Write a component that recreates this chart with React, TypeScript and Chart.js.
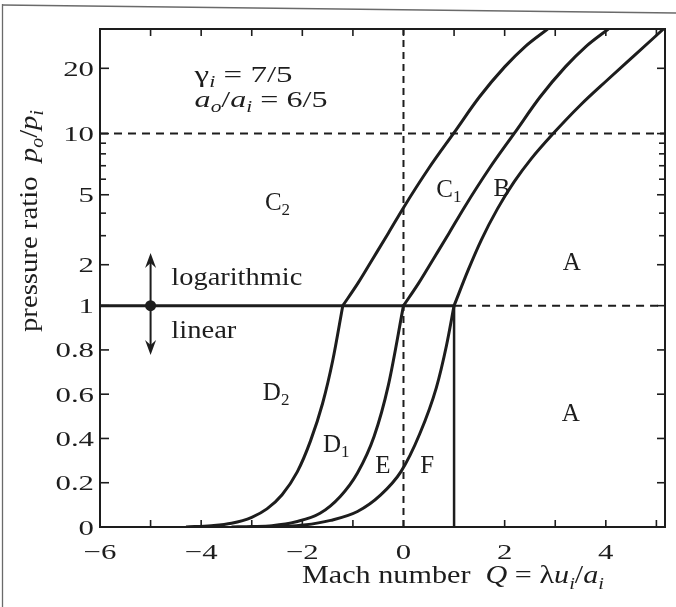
import React, { useEffect, useRef } from 'react';
import { Chart, registerables, LinearScale } from 'chart.js';

// ---------- axis ranges & ticks ----------
const X_MIN = -6;
const X_MAX = 5.17;
const Y_MAX = 30;
const LOG_GAIN = 1.05; // height of the logarithmic part relative to the linear part

const X_LABEL_TICKS = [-6, -4, -2, 0, 2, 4];
const X_ALL_TICKS = [-5, -4, -3, -2, -1, 0, 1, 2, 3, 4, 5];
const Y_LABEL_TICKS = [0, 0.2, 0.4, 0.6, 0.8, 1, 2, 5, 10, 20];
const Y_MINOR_TICKS = [3, 4, 6, 7, 8, 9];

// ---------- curves (Q, p_o/p_i) ----------
const LEFT_LOW_Q = [-4.3, -3.8, -3.4, -3.0, -2.7, -2.4, -2.1, -1.84, -1.6, -1.4, -1.2];
const LEFT_LOW_P = [0, 0.006, 0.017, 0.044, 0.082, 0.146, 0.249, 0.388, 0.558, 0.751, 1];
const LEFT_UP_Q = [-1.2, -0.9, -0.6, -0.3, 0, 0.5, 1.0, 1.5, 2.0, 2.4, 2.85];
const LEFT_UP_P = [1, 1.5, 2.2, 3.1, 4.28, 6.8, 10.1, 14.8, 20.3, 25, 30];

const MID_LOW_Q = [-3.4, -3.0, -2.6, -2.12, -1.65, -1.25, -0.91, -0.58, -0.3, 0];
const MID_LOW_P = [0, 0.002, 0.006, 0.024, 0.062, 0.138, 0.244, 0.41, 0.64, 1];
const MID_UP_Q = [0, 0.3, 0.6, 0.9, 1.2, 1.7, 2.2, 2.7, 3.2, 3.6, 4.05];
const MID_UP_P = [1, 1.5, 2.2, 3.1, 4.28, 6.8, 10.1, 14.8, 20.3, 25, 30];

const RIGHT_LOW_Q = [-2.9, -2.4, -1.97, -1.44, -0.91, -0.45, -0.05, 0.32, 0.65, 0.85, 1.0];
const RIGHT_LOW_P = [0, 0.003, 0.009, 0.03, 0.07, 0.145, 0.25, 0.42, 0.63, 0.82, 1];
const RIGHT_UP_Q = [1.0, 1.28, 1.54, 1.86, 2.19, 2.52, 2.96, 3.5, 4.03, 4.55, 5.14];
const RIGHT_UP_P = [1, 1.85, 2.84, 4.23, 5.83, 7.54, 10, 13.6, 17.7, 22.7, 30];

// ---------- reference lines ----------
const LINE_P1_SOLID_Q = [X_MIN, 1];
const LINE_P1_SOLID_P = [1, 1];
const LINE_Q1_SOLID_Q = [1, 1];
const LINE_Q1_SOLID_P = [0, 1];
const LINE_P1_DASH_Q = [1, X_MAX];
const LINE_P1_DASH_P = [1, 1];
const LINE_P10_DASH_Q = [X_MIN, X_MAX];
const LINE_P10_DASH_P = [10, 10];
const LINE_Q0_DASH_Q = [0, 0];
const LINE_Q0_DASH_P = [0, Y_MAX];

// ---------- annotations (data units) ----------
const ARROW_Q = -5;
const ARROW_UP_P = 2.37;
const ARROW_DOWN_P = 0.777;

const INK = '#1d1d1d';
const FONT = "'Liberation Serif', 'Times New Roman', serif";

function toT(p: number) {
  return p <= 1 ? p : 1 + LOG_GAIN * (Math.log10(p + 1) - Math.log10(2));
}

class HybridScale extends LinearScale {
  static id = 'hybrid';
  getPixelForValue(value: number) {
    return this.getPixelForDecimal(toT(value) / toT(Y_MAX));
  }
  getValueForPixel(pixel: number) {
    const t = this.getDecimalForPixel(pixel) * toT(Y_MAX);
    if (t <= 1) return t;
    return Math.pow(10, (t - 1) / LOG_GAIN + Math.log10(2)) - 1;
  }
}

Chart.register(...registerables, HybridScale);

type Seg = { t: string; italic?: boolean; sub?: boolean };

function drawRich(
  ctx: CanvasRenderingContext2D,
  segs: Seg[],
  x: number,
  y: number,
  size: number,
  opts: { align?: 'left' | 'center' | 'right'; width?: number; scaleX?: number; rotate?: boolean } = {}
) {
  const fontFor = (s: Seg) => `${s.italic ? 'italic ' : ''}${s.sub ? Math.round(size * 0.68) : size}px ${FONT}`;
  let total = 0;
  const widths = segs.map((s) => {
    ctx.font = fontFor(s);
    const w = ctx.measureText(s.t).width;
    total += w;
    return w;
  });
  const sx = opts.width ? opts.width / total : opts.scaleX || 1;
  ctx.save();
  ctx.translate(x, y);
  if (opts.rotate) ctx.rotate(-Math.PI / 2);
  ctx.scale(sx, 1);
  let cx = 0;
  if (opts.align === 'center') cx = -total / 2;
  else if (opts.align === 'right') cx = -total;
  ctx.textBaseline = 'alphabetic';
  ctx.textAlign = 'left';
  ctx.fillStyle = INK;
  segs.forEach((s, i) => {
    ctx.font = fontFor(s);
    ctx.fillText(s.t, cx, s.sub ? size * 0.22 : 0);
    cx += widths[i];
  });
  ctx.restore();
}

const REGION_LABELS: { segs: Seg[]; q: number; p: number }[] = [
  { segs: [{ t: 'C' }, { t: '2', sub: true }], q: -2.74, p: 4.16 },
  { segs: [{ t: 'C' }, { t: '1', sub: true }], q: 0.65, p: 4.87 },
  { segs: [{ t: 'B' }], q: 1.78, p: 4.93 },
  { segs: [{ t: 'A' }], q: 3.15, p: 1.85 },
  { segs: [{ t: 'A' }], q: 3.13, p: 0.479 },
  { segs: [{ t: 'D' }, { t: '2', sub: true }], q: -2.78, p: 0.574 },
  { segs: [{ t: 'D' }, { t: '1', sub: true }], q: -1.59, p: 0.339 },
  { segs: [{ t: 'E' }], q: -0.56, p: 0.244 },
  { segs: [{ t: 'F' }], q: 0.33, p: 0.244 },
];

const decor = {
  id: 'decor',
  afterDatasetsDraw(chart: any) {
    const { ctx, chartArea: a, scales } = chart;
    const xs = scales.x;
    const ys = scales.y;
    const line = (x1: number, y1: number, x2: number, y2: number) => {
      ctx.beginPath();
      ctx.moveTo(x1, y1);
      ctx.lineTo(x2, y2);
      ctx.stroke();
    };
    ctx.save();

    // scanned page edges
    ctx.strokeStyle = '#6a6a6a';
    ctx.lineWidth = 1.3;
    line(2.5, 4, 2.5, 607);
    line(2, 5, 676, 13);

    // frame
    ctx.strokeStyle = INK;
    ctx.lineWidth = 2;
    ctx.strokeRect(a.left, a.top, a.right - a.left, a.bottom - a.top);

    // inward ticks
    ctx.lineWidth = 1.6;
    X_ALL_TICKS.forEach((q) => {
      const x = xs.getPixelForValue(q);
      line(x, a.bottom, x, a.bottom - 7);
      line(x, a.top, x, a.top + 7);
    });
    Y_LABEL_TICKS.forEach((p) => {
      const y = ys.getPixelForValue(p);
      line(a.left, y, a.left + 9, y);
      line(a.right, y, a.right - 8, y);
    });
    Y_MINOR_TICKS.forEach((p) => {
      const y = ys.getPixelForValue(p);
      line(a.left, y, a.left + 6, y);
      line(a.right, y, a.right - 6, y);
    });

    // tick labels
    X_LABEL_TICKS.forEach((q) => {
      const txt = q < 0 ? '\u2212' + Math.abs(q) : String(q);
      drawRich(ctx, [{ t: txt }], xs.getPixelForValue(q), a.bottom + 32, 22, { align: 'center', scaleX: 1.4 });
    });
    Y_LABEL_TICKS.forEach((p) => {
      drawRich(ctx, [{ t: String(p) }], a.left - 6, ys.getPixelForValue(p) + 7.5, 22, { align: 'right', scaleX: 1.4 });
    });

    // axis titles
    drawRich(
      ctx,
      [
        { t: 'Mach number  ' },
        { t: 'Q', italic: true },
        { t: ' = \u03bb' },
        { t: 'u', italic: true },
        { t: 'i', italic: true, sub: true },
        { t: '/' },
        { t: 'a', italic: true },
        { t: 'i', italic: true, sub: true },
      ],
      302,
      a.bottom + 56,
      25,
      { align: 'left', width: 302 }
    );
    drawRich(
      ctx,
      [
        { t: 'pressure ratio  ' },
        { t: 'p', italic: true },
        { t: 'o', italic: true, sub: true },
        { t: '/' },
        { t: 'p', italic: true },
        { t: 'i', italic: true, sub: true },
      ],
      37,
      221,
      26,
      { align: 'center', width: 222, rotate: true }
    );

    // parameter text
    drawRich(
      ctx,
      [{ t: '\u03b3' }, { t: 'i', italic: true, sub: true }, { t: ' = 7/5' }],
      xs.getPixelForValue(-4.13),
      ys.getPixelForValue(17.4),
      24,
      { width: 98 }
    );
    drawRich(
      ctx,
      [
        { t: 'a', italic: true },
        { t: 'o', italic: true, sub: true },
        { t: '/' },
        { t: 'a', italic: true },
        { t: 'i', italic: true, sub: true },
        { t: ' = 6/5' },
      ],
      xs.getPixelForValue(-4.13),
      ys.getPixelForValue(13.3),
      24,
      { width: 133 }
    );

    // region labels
    REGION_LABELS.forEach((l) => {
      drawRich(ctx, l.segs, xs.getPixelForValue(l.q), ys.getPixelForValue(l.p), 25);
    });

    // logarithmic / linear with arrows
    drawRich(ctx, [{ t: 'logarithmic' }], xs.getPixelForValue(-4.59), ys.getPixelForValue(1.455), 26, { width: 131 });
    drawRich(ctx, [{ t: 'linear' }], xs.getPixelForValue(-4.59), ys.getPixelForValue(0.854), 26, { width: 65 });

    const ax = xs.getPixelForValue(ARROW_Q);
    const y1 = ys.getPixelForValue(1);
    const yUp = ys.getPixelForValue(ARROW_UP_P);
    const yDn = ys.getPixelForValue(ARROW_DOWN_P);
    ctx.strokeStyle = INK;
    ctx.fillStyle = INK;
    ctx.lineWidth = 2;
    line(ax, yUp + 4, ax, yDn - 4);
    const head = (tipY: number, dir: number) => {
      ctx.beginPath();
      ctx.moveTo(ax, tipY);
      ctx.lineTo(ax - 5.5, tipY - dir * 15);
      ctx.lineTo(ax, tipY - dir * 10);
      ctx.lineTo(ax + 5.5, tipY - dir * 15);
      ctx.closePath();
      ctx.fill();
    };
    head(yUp, -1);
    head(yDn, 1);
    ctx.beginPath();
    ctx.arc(ax, y1, 5.5, 0, Math.PI * 2);
    ctx.fill();

    ctx.restore();
  },
};

function series(qs: number[], ps: number[], extra: any = {}) {
  return {
    data: qs.map((q, i) => ({ x: q, y: ps[i] })),
    showLine: true,
    pointRadius: 0,
    borderColor: INK,
    borderWidth: 3,
    cubicInterpolationMode: 'monotone',
    ...extra,
  };
}

export default function App() {
  const ref = useRef<HTMLCanvasElement | null>(null);
  useEffect(() => {
    if (!ref.current) return;
    const dash1 = { borderWidth: 2, borderDash: [8, 6], cubicInterpolationMode: 'default' };
    const dash2 = { borderWidth: 2, borderDash: [7, 5], cubicInterpolationMode: 'default' };
    const chart = new Chart(ref.current, {
      type: 'scatter',
      data: {
        datasets: [
          series(LEFT_LOW_Q, LEFT_LOW_P),
          series(LEFT_UP_Q, LEFT_UP_P),
          series(MID_LOW_Q, MID_LOW_P),
          series(MID_UP_Q, MID_UP_P),
          series(RIGHT_LOW_Q, RIGHT_LOW_P),
          series(RIGHT_UP_Q, RIGHT_UP_P),
          series(LINE_P1_SOLID_Q, LINE_P1_SOLID_P, { cubicInterpolationMode: 'default' }),
          series(LINE_Q1_SOLID_Q, LINE_Q1_SOLID_P, { borderWidth: 2.5, cubicInterpolationMode: 'default' }),
          series(LINE_P1_DASH_Q, LINE_P1_DASH_P, dash1),
          series(LINE_P10_DASH_Q, LINE_P10_DASH_P, dash1),
          series(LINE_Q0_DASH_Q, LINE_Q0_DASH_P, dash2),
        ] as any,
      },
      options: {
        responsive: false,
        devicePixelRatio: 1,
        animation: false,
        layout: { padding: { left: 100, top: 29, right: 11, bottom: 80 } },
        plugins: { legend: { display: false }, tooltip: { enabled: false } },
        scales: {
          x: { type: 'linear', min: X_MIN, max: X_MAX, display: false },
          y: { type: 'hybrid' as any, min: 0, max: Y_MAX, display: false },
        },
      } as any,
      plugins: [decor],
    });
    return () => chart.destroy();
  }, []);
  return (
    <div style={{ position: 'fixed', left: 0, top: 0, width: 676, height: 607, background: '#fff' }}>
      <canvas ref={ref} width={676} height={607} style={{ display: 'block' }} />
    </div>
  );
}
